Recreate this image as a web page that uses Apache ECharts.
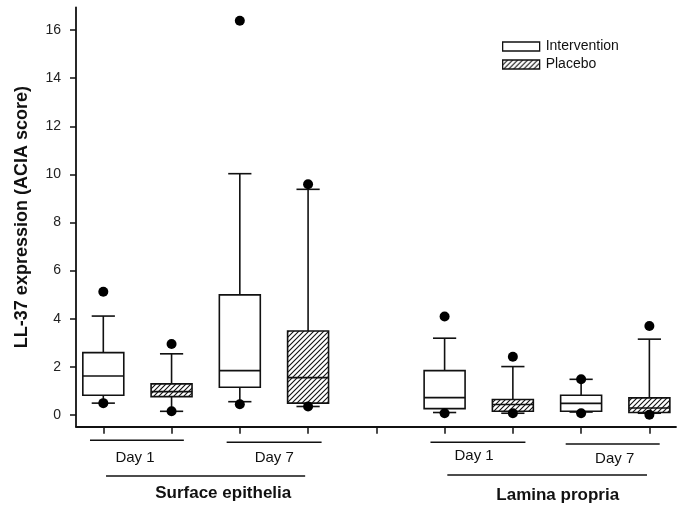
<!DOCTYPE html>
<html>
<head>
<meta charset="utf-8">
<script src="https://cdn.jsdelivr.net/npm/echarts@6/dist/echarts.min.js"></script>
<style>html,body{margin:0;padding:0;background:#fff}#c{width:685px;height:515px}</style>
</head>
<body>
<div id="c"></div>
<script>
// Positions on x axis (5 is the gap between groups)
const positions = [1, 2, 3, 4, 6, 7, 8, 9];
const yTicks = [0, 2, 4, 6, 8, 10, 12, 14, 16];
const xTicks = [1, 2, 3, 4, 5, 6, 7, 8, 9];
// [x, lowWhisker, Q1, median, Q3, highWhisker]
const interventionBoxes = [
  [1, 0.49, 0.82, 1.62, 2.59, 4.11],
  [3, 0.55, 1.15, 1.84, 4.99, 10.03],
  [6, 0.10, 0.26, 0.72, 1.84, 3.19],
  [8, 0.12, 0.15, 0.48, 0.82, 1.48]
];
const placeboBoxes = [
  [2, 0.15, 0.76, 0.97, 1.29, 2.54],
  [4, 0.35, 0.49, 1.55, 3.49, 9.38],
  [7, 0.07, 0.15, 0.43, 0.64, 2.01],
  [9, 0.07, 0.10, 0.29, 0.71, 3.15]
];
// dots (outliers / extreme values)
const dots = [
  [1, 5.12], [1, 0.49],
  [2, 2.95], [2, 0.15],
  [3, 16.39], [3, 0.44],
  [4, 9.59], [4, 0.35],
  [6, 4.09], [6, 0.07],
  [7, 2.42], [7, 0.07],
  [8, 1.48], [8, 0.07],
  [9, 3.70], [9, 0.01]
];
const dayLines = [
  {from: 0.805, to: 2.18, label: 'Day 1', lx: 1.464},
  {from: 2.807, to: 4.198, label: 'Day 7', lx: 3.504},
  {from: 5.793, to: 7.184, label: 'Day 1', lx: 6.432},
  {from: 7.774, to: 9.151, label: 'Day 7', lx: 8.492}
];
const dayLineY = [440.3, 442.3, 442.3, 444];
const dayLabelY = [458.3, 458.3, 455.7, 459.3];
const groupLines = [
  {from: 1.04, to: 3.957, label: 'Surface epithelia', lx: 2.757},
  {from: 6.04, to: 8.965, label: 'Lamina propria', lx: 7.657}
];
const groupLineY = [476, 475];
const groupLabelY = [493.3, 495.7];

// hatch pattern
const pc = document.createElement('canvas');
pc.width = 5; pc.height = 5;
const pctx = pc.getContext('2d');
pctx.fillStyle = '#fff';
pctx.fillRect(0, 0, 5, 5);
pctx.strokeStyle = '#111';
pctx.lineWidth = 1.1;
pctx.beginPath();
pctx.moveTo(-1, 6); pctx.lineTo(6, -1);
pctx.moveTo(-1, 1); pctx.lineTo(1, -1);
pctx.moveTo(4, 6); pctx.lineTo(6, 4);
pctx.stroke();
const hatch = {image: pc, repeat: 'repeat'};

function makeRender(fill) {
  return function (params, api) {
    const x = api.value(0);
    const lo = api.coord([x, api.value(1)]);
    const q1 = api.coord([x, api.value(2)]);
    const md = api.coord([x, api.value(3)]);
    const q3 = api.coord([x, api.value(4)]);
    const hi = api.coord([x, api.value(5)]);
    const unit = api.size([1, 0])[0];
    const bw = unit * 0.3;
    const cw = unit * 0.17;
    const cx = q1[0];
    const ls = {stroke: '#111', lineWidth: 1.6, fill: null};
    return {
      type: 'group',
      children: [
        {type: 'line', shape: {x1: cx, y1: q3[1], x2: cx, y2: hi[1]}, style: ls},
        {type: 'line', shape: {x1: cx - cw, y1: hi[1], x2: cx + cw, y2: hi[1]}, style: ls},
        {type: 'line', shape: {x1: cx, y1: q1[1], x2: cx, y2: lo[1]}, style: ls},
        {type: 'line', shape: {x1: cx - cw, y1: lo[1], x2: cx + cw, y2: lo[1]}, style: ls},
        {type: 'rect', shape: {x: cx - bw, y: q3[1], width: 2 * bw, height: q1[1] - q3[1]},
          style: {fill: fill, stroke: '#111', lineWidth: 1.6}},
        {type: 'line', shape: {x1: cx - bw, y1: md[1], x2: cx + bw, y2: md[1]}, style: ls}
      ]
    };
  };
}

const chart = echarts.init(document.getElementById('c'), null, {renderer: 'canvas'});
const font = 'Liberation Sans, Arial, sans-serif';
chart.setOption({
  animation: false,
  backgroundColor: '#fff',
  grid: {left: 76, right: 9, top: 7.5, bottom: 88.3, containLabel: false},
  xAxis: {
    type: 'value', min: 0.6, max: 9.39,
    axisLine: {show: true, onZero: false, lineStyle: {color: '#111', width: 1.8}},
    axisTick: {show: true, length: 7, customValues: xTicks, lineStyle: {color: '#111', width: 1.5}},
    axisLabel: {show: false},
    splitLine: {show: false}
  },
  yAxis: {
    type: 'value', min: -0.49, max: 16.94,
    name: 'LL-37 expression (ACIA score)',
    nameLocation: 'middle', nameGap: 45,
    nameTextStyle: {fontFamily: font, fontSize: 18, fontWeight: 'bold', color: '#111'},
    axisLine: {show: true, onZero: false, lineStyle: {color: '#111', width: 1.8}},
    axisTick: {show: true, length: 6, customValues: yTicks, lineStyle: {color: '#111', width: 1.5}},
    axisLabel: {customValues: yTicks, margin: 15, fontFamily: font, fontSize: 14, color: '#222'},
    splitLine: {show: false}
  },
  legend: {
    left: 497, top: 34.5, orient: 'vertical',
    itemWidth: 37, itemHeight: 9, itemGap: 4,
    icon: 'rect',
    textStyle: {fontFamily: font, fontSize: 14, color: '#111', padding: [0, 0, 0, 1], lineHeight: 14},
    data: [
      {name: 'Intervention', itemStyle: {color: '#fff', borderColor: '#111', borderWidth: 1.3}},
      {name: 'Placebo', itemStyle: {color: hatch, borderColor: '#111', borderWidth: 1.3}}
    ]
  },
  series: [
    {name: 'Intervention', type: 'custom', renderItem: makeRender('#fff'),
      itemStyle: {color: '#fff', borderColor: '#111'},
      encode: {x: 0, y: [1, 2, 3, 4, 5]}, data: interventionBoxes, z: 2},
    {name: 'Placebo', type: 'custom', renderItem: makeRender(hatch),
      itemStyle: {color: hatch, borderColor: '#111'},
      encode: {x: 0, y: [1, 2, 3, 4, 5]}, data: placeboBoxes, z: 2},
    {name: 'dots', type: 'scatter', symbol: 'circle', symbolSize: 10,
      itemStyle: {color: '#000', opacity: 1}, data: dots, z: 5}
  ]
});

const g = [];
function px(v) { return chart.convertToPixel({xAxisIndex: 0}, v); }
dayLines.forEach(function (d, i) {
  g.push({type: 'line', shape: {x1: px(d.from), y1: dayLineY[i], x2: px(d.to), y2: dayLineY[i]},
    style: {stroke: '#111', lineWidth: 1.5}});
  g.push({type: 'text', x: px(d.lx), y: dayLabelY[i],
    style: {text: d.label, font: '15px ' + font, fill: '#111', align: 'center', verticalAlign: 'middle'}});
});
groupLines.forEach(function (d, i) {
  g.push({type: 'line', shape: {x1: px(d.from), y1: groupLineY[i], x2: px(d.to), y2: groupLineY[i]},
    style: {stroke: '#111', lineWidth: 1.5}});
  g.push({type: 'text', x: px(d.lx), y: groupLabelY[i],
    style: {text: d.label, font: 'bold 17px ' + font, fill: '#111', align: 'center', verticalAlign: 'middle'}});
});
chart.setOption({graphic: g});
</script>
</body>
</html>
